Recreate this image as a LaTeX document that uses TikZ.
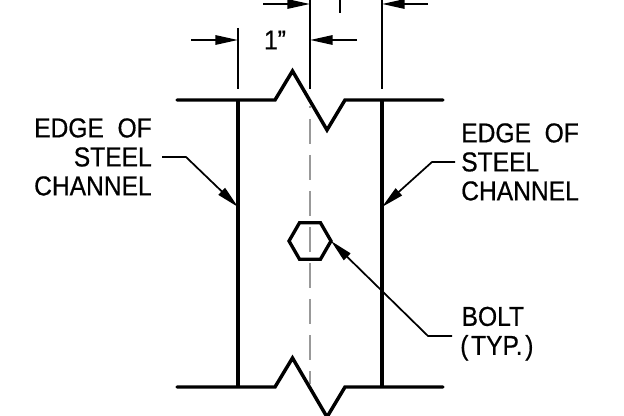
\documentclass[tikz,border=0pt]{standalone}
\usepackage{fontspec}
\setmainfont{Liberation Sans}[FakeBold=0.6,FakeStretch=0.9]
\usetikzlibrary{arrows.meta,shapes.geometric}
\tikzset{
    flange/.style={line width=2.6pt,line cap=round,line join=miter},
    wall/.style={line width=2.6pt},
    thinline/.style={line width=1.5pt},
    dimarrow/.style={line width=1.5pt,-{Triangle[length=17pt,width=7pt]}},
    leader/.style={line width=1.3pt,-{Triangle[length=17pt,width=7pt]}},
    label/.style={inner sep=0pt,font=\fontsize{20.5}{21.75}\selectfont},
}
\begin{document}
\begin{tikzpicture}[x=0.75pt,y=-0.75pt]
        \useasboundingbox (0, 0) rectangle (624, 416);

        \coordinate (lefttop) at (238, 100);
        \coordinate (leftbot) at (238, 387);
        \coordinate (righttop) at (382, 100);
        \coordinate (rightbot) at (382, 387);
        \coordinate (ext1) at (238, 28);
        \coordinate (ext1end) at (238, 89);
        \coordinate (ext2) at (310, 0);
        \coordinate (ext2end) at (310, 89);
        \coordinate (ext3) at (382, 0);
        \coordinate (ext3end) at (382, 89);

        % centre line
        \draw[line width=1pt,gray!80,dash pattern=on 18.75pt off 8.25pt,dash phase=17.25pt] (310, 106) -- (310, 384);
        \node[draw,regular polygon,regular polygon sides=6,line width=2.5pt,minimum size=31.5pt,inner sep=0pt,outer sep=0pt] (bolt) at (310, 241) {};

        % channel
        \draw[flange] (177, 100) -- (275, 100) -- (292.5, 71) -- (327, 130) -- (345, 100) -- (443, 100);
        \draw[flange] (177, 387) -- (275, 387) -- (292.5, 358) -- (327, 417) -- (345, 387) -- (443, 387);
        \draw[wall] (lefttop) -- (leftbot);
        \draw[wall] (righttop) -- (rightbot);

        % dimensions
        \draw[thinline] (ext1) -- (ext1end);
        \draw[thinline] (ext2) -- (ext2end);
        \draw[thinline] (ext3) -- (ext3end);
        \coordinate (dim1) at (191, 40);
        \coordinate (dim2) at (357, 40);
        \coordinate (dim3) at (263, 4);
        \coordinate (dim4) at (428, 4);
        \draw[dimarrow] (dim1) -- (238, 40);
        \draw[dimarrow] (dim2) -- (310, 40);
        \draw[dimarrow] (dim3) -- (310, 4);
        \draw[dimarrow] (dim4) -- (382, 4);
        \coordinate (stub) at (340, 13);
        \draw[thinline] (stub) -- (340, 0);
        \node[label] (onein) at (275, 40) {1”};

        % labels
        \node[label,align=right,anchor=north east] (edgeleft) at (152, 118) {EDGE\ \ OF\\STEEL\\CHANNEL};
        \node[label,align=left,anchor=north west] (edgeright) at (461, 123) {EDGE\ \ OF\\STEEL\\CHANNEL};
        \node[label,align=left,anchor=north west] (boltlabel) at (460, 306.5) {\kern1pt BOLT\\(\kern2pt TYP.\kern2pt)};

        \coordinate (edgeleftend) at (162, 157);
        \coordinate (edgerightend) at (455, 162);
        \coordinate (boltend) at (452, 336);
        \draw[leader] (edgeleftend) -- (186, 157) -- (238, 207);
        \draw[leader] (edgerightend) -- (432, 162) -- (382, 207);
        \draw[leader] (boltend) -- (428, 336) -- (bolt.east);

    \end{tikzpicture}
\end{document}
